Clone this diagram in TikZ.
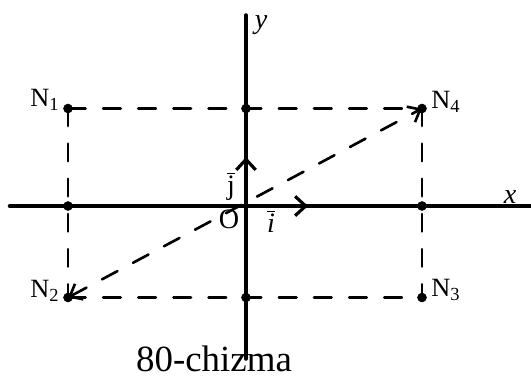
\documentclass[tikz,border=0pt]{standalone}
\usepackage{fontspec}
\setmainfont{Liberation Serif}
\usepackage{tkz-euclide}
\usetikzlibrary{arrows.meta}
\newcommand{\labfont}{\fontsize{15}{17}\selectfont}
\newcommand{\axfont}{\fontsize{16}{18}\selectfont}

\begin{document}
\begin{tikzpicture}
\useasboundingbox (-4.92,-3.46) rectangle (5.7,4.12);
\tkzSetUpLine[line width=2pt,color=black]
\tkzSetUpPoint[fill=black]

\tkzDefPoints{0/0/O,-4.73/0/X1,5.7/0/X2,0/-3.06/Y1,0/3.82/Y2}
\tkzDefPoints{0/0.98/J,1.24/0/I}
\tkzDefPoints{-3.56/1.95/N1,-3.56/-1.83/N2,3.52/-1.83/N3,3.52/1.95/N4}
\tkzDefPoints{0/1.95/A,0/-1.83/B,-3.56/0/C,3.52/0/D}

% axes
\tkzDrawSegments[line width=2pt](X1,X2 Y1,Y2)
\tkzDrawSegments[line width=2pt,-{Straight Barb[length=6pt,width=11pt,line width=1.8pt]}](O,J O,I)

% rectangle
\tkzDrawSegments[line width=1.5pt,dash pattern=on 10pt off 10pt](N1,N4 N2,N3 N1,N2 N4,N3)
\tkzDrawSegments[line width=1.5pt,dash pattern=on 10pt off 10pt,{Straight Barb[length=6pt,width=10pt]}-{Straight Barb[length=6pt,width=10pt]}](N2,N4)

\tkzDrawPoints[size=5](N1,N2,N3,N4,A,B,C,D)

% labels
\node (lN1) at (-4.02,2.13) {\labfont N\textsubscript{1}};
\node (lN2) at (-4.02,-1.7) {\labfont N\textsubscript{2}};
\node (lN3) at (4.0,-1.68) {\labfont N\textsubscript{3}};
\node (lN4) at (4.0,2.08) {\labfont N\textsubscript{4}};
\node (ly) at (0.3,3.62) {\axfont\textit{y}};
\node (lx) at (5.28,0.18) {\axfont\textit{x}};
\node (lO) at (-0.34,-0.26) {\axfont O};
\node (lj) at (-0.3,0.4) {\axfont$\overline{\hbox{j}}$};
\node (li) at (0.5,-0.3) {\axfont$\overline{\hbox{\textit{i}}}$};
\node[anchor=base] (cap) at (-0.64,-3.3) {\fontsize{21}{24}\selectfont 80-chizma};
\end{tikzpicture}
\end{document}
